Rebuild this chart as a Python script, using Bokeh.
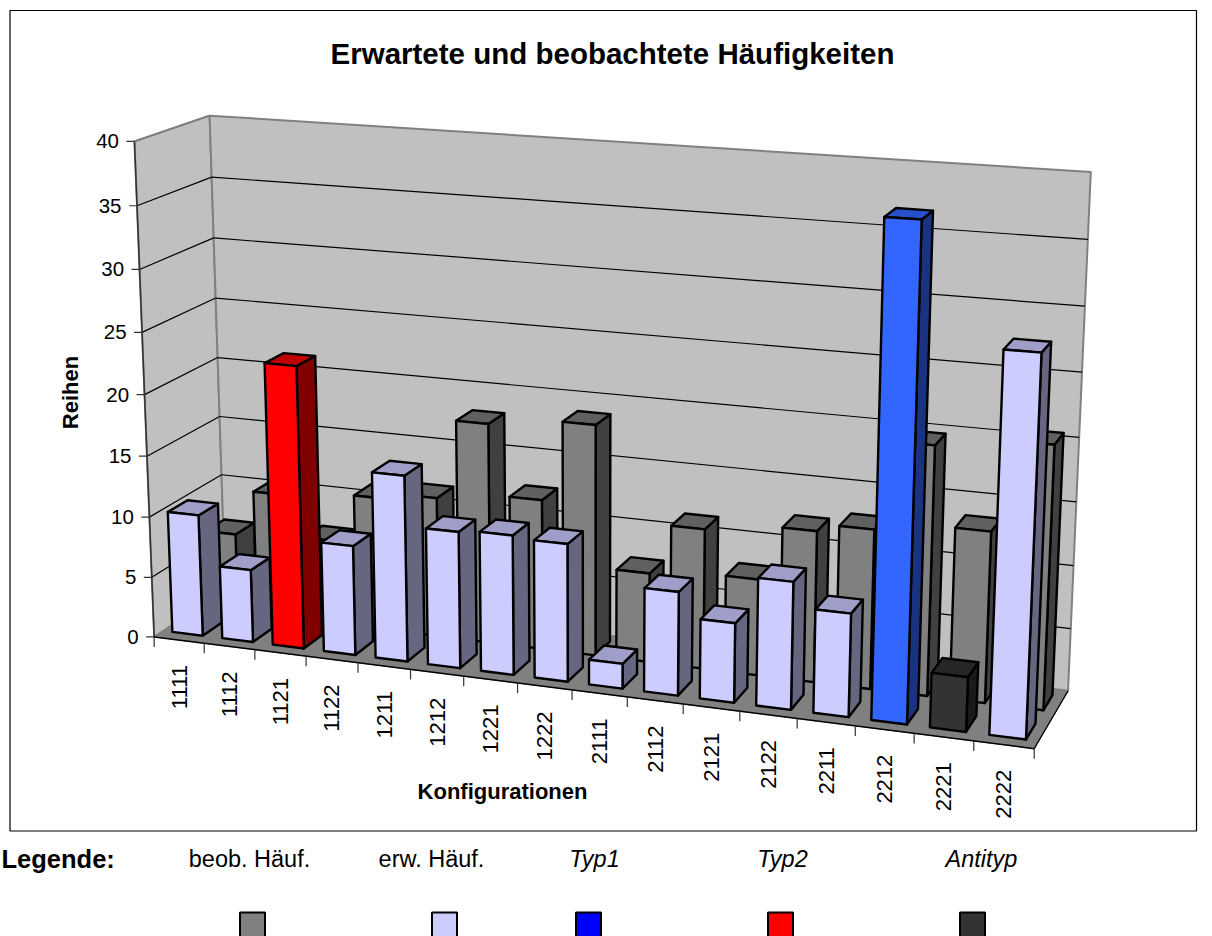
import numpy as np
from bokeh.plotting import figure
from bokeh.embed import file_html
from bokeh.resources import INLINE
from bokeh.core.properties import value

# ---- data ----
categories = ["1111", "1112", "1121", "1122", "1211", "1212", "1221", "1222",
              "2111", "2112", "2121", "2122", "2211", "2212", "2221", "2222"]
beobachtet = [6.6, 10.4, 7, 11, 11.5, 18, 12.25, 18.75, 7.25, 11.3, 7.75, 12.1, 12.7, 19.7, 13.5, 20.6]
erwartet = [10.05, 6.0, 23.0, 8.95, 15.1, 11.05, 11.25, 11.05, 2, 8.25, 6.3, 10.05, 8.1, 37.9, 4.25, 29]
front_kind = ["e", "e", "t2", "e", "e", "e", "e", "e",
              "e", "e", "e", "e", "e", "t1", "a", "e"]
y_ticks = [0, 5, 10, 15, 20, 25, 30, 35, 40]
legend_labels = ["beob. Häuf.", "erw. Häuf.", "Typ1", "Typ2", "Antityp"]
legend_colors = ["#808080", "#CCCCFF", "#0000FF", "#FF0000", "#333333"]

# front / top / side colours per kind
palette = {
    "b": ("#808080", "#606060", "#404040"),
    "e": ("#CCCCFF", "#9E9EC8", "#666680"),
    "t1": ("#3366FF", "#2650CC", "#1A3380"),
    "t2": ("#FF0000", "#C00000", "#800000"),
    "a": ("#333333", "#262626", "#1A1A1A"),
}

# ---- projection of the 3-D box (category, depth, value) to the page ----
anchors = [
    ((0, 0, 0), (153, 637)), ((16, 0, 0), (1034, 747)), ((16, 1, 0), (1067, 692)),
    ((0, 1, 0), (225, 588)), ((0, 0, 40), (134, 141)), ((0, 1, 40), (209, 115)),
    ((16, 1, 40), (1090, 171)), ((8, 0, 0), (572, 689)), ((0, 0, 20), (144, 395)),
    ((16, 1, 20), (1079, 437)), ((0, 1, 20), (217.5, 357)),
]
A = []
for (X, Y, Z), (u, v) in anchors:
    A.append([X, Y, Z, 1, 0, 0, 0, 0, -u * X, -u * Y, -u * Z, -u])
    A.append([0, 0, 0, 0, X, Y, Z, 1, -v * X, -v * Y, -v * Z, -v])
P = np.linalg.svd(np.array(A, float))[2][-1].reshape(3, 4)


def proj(c, d, v):
    q = P @ np.array([c, d, v, 1.0])
    return q[0] / q[2], q[1] / q[2]


p = figure(width=1212, height=936, x_range=(0, 1212), y_range=(936, 0),
           output_backend="svg", toolbar_location=None, min_border=0,
           outline_line_color=None, background_fill_color="white",
           border_fill_color="white",
           styles={"position": "absolute", "left": "0px", "top": "0px"})
p.axis.visible = False
p.grid.visible = False


def poly(pts, fill, line="#000000", lw=2.4):
    xs, ys = zip(*[proj(*q) for q in pts])
    p.patch(list(xs), list(ys), fill_color=fill, line_color=line, line_width=lw,
            line_join="round")


def seg(a, b, color="#000000", lw=1.2):
    xa, ya = proj(*a)
    xb, yb = proj(*b)
    p.line([xa, xb], [ya, yb], line_color=color, line_width=lw)


# frame
p.quad(left=[9.5], right=[1196], top=[10], bottom=[830.5], fill_color="white",
       line_color="#000000", line_width=1.2)

# walls and floor
poly([(0, 0, 0), (0, 1, 0), (0, 1, 40), (0, 0, 40)], "#C0C0C0", "#808080", 2)
poly([(0, 1, 0), (16, 1, 0), (16, 1, 40), (0, 1, 40)], "#C0C0C0", "#808080", 2)
poly([(0, 0, 0), (16, 0, 0), (16, 1, 0), (0, 1, 0)], "#808080", "#808080", 1)

# gridlines
for t in y_ticks[1:-1]:
    seg((0, 0, t), (0, 1, t))
    seg((0, 1, t), (16, 1, t))

# axes
seg((0, 0, 0), (0, 0, 40), "#333333", 1.5)
seg((0, 0, 0), (16, 0, 0), "#000000", 1.5)
seg((0, 0, 40), (0, 1, 40), "#808080", 2)
seg((16, 0, 0), (16, 1, 0), "#000000", 1.2)
for t in y_ticks:
    x, y = proj(0, 0, t)
    p.line([x - 8, x], [y, y], line_color="#333333", line_width=1.2)
    p.text([x - 15.5], [y], text=[str(t)], text_font=value("Liberation Sans"),
           text_font_size="20.5px", text_align="right", text_baseline="middle",
           text_color="#000000")
for i in range(len(categories) + 1):
    x, y = proj(i, 0, 0)
    p.line([x, x], [y, y + 10], line_color="#333333", line_width=1.2)
for i, name in enumerate(categories):
    x, y = proj(i + 0.5, 0, 0)
    p.text([x], [y + 25], text=[name], angle=[np.pi / 2],
           text_font=value("Liberation Sans"), text_font_size="22px",
           text_align="right", text_baseline="middle", text_color="#000000")


def bar(i, v, kind, d0, d1, c0=0.18, c1=0.79):
    front, top, side = palette[kind]
    c0, c1 = i + c0, i + c1
    poly([(c1, d0, 0), (c1, d1, 0), (c1, d1, v), (c1, d0, v)], side)
    poly([(c0, d0, v), (c1, d0, v), (c1, d1, v), (c0, d1, v)], top)
    poly([(c0, d0, 0), (c1, d0, 0), (c1, d0, v), (c0, d0, v)], front)


for i, v in enumerate(beobachtet):
    bar(i, v, "b", 0.625, 0.895)
for i, (v, k) in enumerate(zip(erwartet, front_kind)):
    bar(i, v, k, 0.125, 0.395)

# titles
p.text([612], [52.5], text=["Erwartete und beobachtete Häufigkeiten"],
       text_font=value("Liberation Sans"), text_font_style="bold",
       text_font_size="29.5px", text_align="center", text_baseline="middle")
p.text([502], [791], text=["Konfigurationen"], text_font=value("Liberation Sans"),
       text_font_style="bold", text_font_size="22px", text_align="center",
       text_baseline="middle")
p.text([70], [392], text=["Reihen"], angle=[np.pi / 2],
       text_font=value("Liberation Sans"), text_font_style="bold",
       text_font_size="22px", text_align="center", text_baseline="middle")

# legend
p.text([1], [858], text=["Legende:"], text_font=value("Liberation Sans"),
       text_font_style="bold", text_font_size="25.5px", text_baseline="middle")
lx = [249, 431, 594, 782, 981]
sx = [252, 444, 588, 780, 972]
for k, (lab, col, x, s) in enumerate(zip(legend_labels, legend_colors, lx, sx)):
    p.text([x], [858], text=[lab], text_font=value("Liberation Sans"),
           text_font_style="italic" if k >= 2 else "normal",
           text_font_size="23.5px", text_align="center", text_baseline="middle")
    p.quad(left=[s - 12.5], right=[s + 12.5], top=[912], bottom=[948],
           fill_color=col, line_color="#000000", line_width=2)

open("out.html", "w").write(file_html(p, INLINE))
